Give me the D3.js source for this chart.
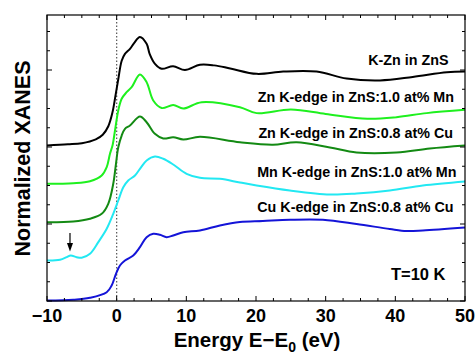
<!DOCTYPE html>
<html>
<head>
<meta charset="utf-8">
<script src="https://cdn.jsdelivr.net/npm/d3@7"></script>
<style>
  html, body { margin: 0; padding: 0; background: #fff; }
  svg { display: block; font-family: "Liberation Sans", Arial, sans-serif; }
</style>
</head>
<body>
<svg id="chart" width="475" height="354"></svg>
<script>
// ---------- data (energy in eV, normalized XANES with vertical offsets) ----------
const seriesNames = [
  "K-Zn in ZnS",
  "Zn K-edge in ZnS:1.0 at% Mn",
  "Zn K-edge in ZnS:0.8 at% Cu",
  "Mn K-edge in ZnS:1.0 at% Mn",
  "Cu K-edge in ZnS:0.8 at% Cu"
];
const seriesColors = ["#000000", "#1ef01e", "#138a13", "#22e8f2", "#1414d8"];

const kZnZnS = [
  [-10,2.02],[-7,2.035],[-5,2.05],[-3,2.10],[-2,2.16],[-1.2,2.27],[-0.6,2.45],[-0.2,2.65],
  [0.23,2.88],[0.72,3.12],[1.19,3.21],[1.91,3.275],[2.5,3.35],[3.34,3.43],[4.3,3.34],
  [4.73,3.21],[5.5,3.08],[6.46,3.016],[8.1,3.05],[9.8,3.0],[11.95,3.068],[14,3.06],
  [16.3,3.02],[20.1,2.95],[23.9,2.98],[28.7,2.98],[33,2.89],[37.8,2.865],[42.5,2.91],
  [47.4,2.97],[50,2.98]
];
const znMn = [
  [-10,1.522],[-6.23,1.53],[-3.83,1.556],[-2.15,1.63],[-1.43,1.738],[-0.96,1.912],
  [-0.57,2.03],[-0.24,2.214],[0.23,2.474],[0.72,2.626],[1.43,2.712],[2.15,2.777],
  [3.34,2.942],[4.3,2.842],[5.25,2.604],[6.46,2.506],[8.12,2.545],[9.56,2.50],
  [12.2,2.582],[17.69,2.517],[20.09,2.44],[25,2.487],[30,2.43],[36,2.366],
  [40.17,2.387],[44.5,2.44],[50,2.483]
];
const znCu = [
  [-10,1.023],[-6.23,1.032],[-3.83,1.068],[-2.15,1.132],[-1.21,1.262],[-0.49,1.522],
  [-0.1,1.782],[0.23,1.997],[0.72,2.149],[1.19,2.236],[1.91,2.279],[3.34,2.396],
  [4.3,2.322],[5.49,2.171],[6.69,2.11],[8.12,2.127],[9.56,2.097],[11.95,2.132],
  [17.69,2.062],[22.42,2.03],[25.82,2.062],[30.6,1.994],[34.43,1.929],[40.17,1.929],
  [44.95,1.98],[50,2.019]
];
const mnMn = [
  [-10,0.526],[-8.13,0.535],[-7.17,0.569],[-6.6,0.591],[-5.74,0.569],[-5.02,0.561],
  [-3.83,0.613],[-2.64,0.764],[-1.43,0.938],[-0.49,1.132],[0.23,1.305],[0.95,1.478],
  [1.66,1.565],[2.63,1.63],[3.34,1.717],[4.3,1.825],[5.49,1.877],[6.69,1.847],
  [8.12,1.773],[10.04,1.652],[11.95,1.60],[14.82,1.587],[17.69,1.539],[20.09,1.50],
  [24.86,1.435],[30.6,1.383],[34.43,1.396],[39.21,1.435],[43.95,1.50],[50,1.552]
];
const cuCu = [
  [-10,0.006],[-6.23,0.016],[-3.83,0.042],[-1.43,0.114],[-0.72,0.201],[-0.1,0.353],
  [0.47,0.461],[1.19,0.526],[2.38,0.591],[3.34,0.699],[4.3,0.829],[5.25,0.873],
  [6.21,0.86],[7.17,0.829],[8.12,0.851],[9.56,0.894],[11.95,0.916],[14.82,0.981],
  [17.69,1.026],[20.99,1.039],[24.86,1.055],[29.6,1.055],[34.43,1.0],[39.21,0.935],
  [41.61,0.909],[43.95,0.916],[50,0.955]
];
const seriesValues = [kZnZnS, znMn, znCu, mnMn, cuCu];

const xTickLabels = [-10, 0, 10, 20, 30, 40, 50];
const xMinorStep = 2.5;
const yMinorStep = 0.25;
const tempLabel = "T=10 K";
const arrowEnergy = -6.7;

// ---------- layout ----------
const svg = d3.select("#chart");
const L = 47, R = 465, T = 15, B = 301;
const x = d3.scaleLinear().domain([-10, 50]).range([L, R]);
const y = d3.scaleLinear().domain([0, (B - T) / 77]).range([B, T]);

// dotted E0 line
svg.append("line")
  .attr("x1", x(0)).attr("x2", x(0)).attr("y1", T).attr("y2", B)
  .attr("stroke", "#555").attr("stroke-width", 1.2).attr("stroke-dasharray", "1.5,2");

// curves
const line = d3.line().x(d => x(d[0])).y(d => y(d[1])).curve(d3.curveCatmullRom.alpha(0.5));
seriesValues.forEach((s, i) => {
  svg.append("path").attr("d", line(s)).attr("fill", "none")
    .attr("stroke", seriesColors[i]).attr("stroke-width", 2).attr("stroke-linejoin", "round");
});

// frame
svg.append("rect").attr("x", L).attr("y", T).attr("width", R - L).attr("height", B - T)
  .attr("fill", "none").attr("stroke", "#000").attr("stroke-width", 1.2);

// ticks
const xTicksAll = d3.range(-10, 50.001, xMinorStep);
const yTicksAll = d3.range(0, (B - T) / 77, yMinorStep);
const tickG = svg.append("g").attr("stroke", "#000").attr("stroke-width", 1);
xTicksAll.forEach(v => {
  const len = (Math.abs(v % 10) < 1e-6) ? 5 : 3;
  tickG.append("line").attr("x1", x(v)).attr("x2", x(v)).attr("y1", B).attr("y2", B - len);
  tickG.append("line").attr("x1", x(v)).attr("x2", x(v)).attr("y1", T).attr("y2", T + len);
});
yTicksAll.forEach(v => {
  const len = (Math.abs(v - Math.round(v)) < 1e-6) ? 5 : 3;
  tickG.append("line").attr("x1", L).attr("x2", L + len).attr("y1", y(v)).attr("y2", y(v));
  tickG.append("line").attr("x1", R).attr("x2", R - len).attr("y1", y(v)).attr("y2", y(v));
});

// x tick labels
svg.append("g").selectAll("text").data(xTickLabels).join("text")
  .attr("x", d => x(d)).attr("y", 321.5)
  .attr("text-anchor", "middle").attr("font-size", 18).attr("font-weight", "bold")
  .text(d => d < 0 ? "\u2212" + Math.abs(d) : d);

// axis titles
const xt = svg.append("text").attr("x", 257).attr("y", 346.5)
  .attr("text-anchor", "middle").attr("font-size", 20.5).attr("font-weight", "bold");
xt.append("tspan").text("Energy E\u2212E");
xt.append("tspan").attr("font-size", 14).attr("dy", 5).text("0");
xt.append("tspan").attr("dy", -5).text(" (eV)");

svg.append("text").attr("transform", "translate(29.5,158.5) rotate(-90)")
  .attr("text-anchor", "middle").attr("font-size", 21.5).attr("font-weight", "bold")
  .text("Normalized XANES");

// series labels
const labelX = [448.5, 454, 453, 456.5, 453.5];
const labelY = [65, 101.5, 137.5, 177, 212];
seriesNames.forEach((n, i) => {
  svg.append("text").attr("x", labelX[i]).attr("y", labelY[i])
    .attr("text-anchor", "end").attr("font-size", 14.3).attr("font-weight", "bold")
    .text(n);
});
svg.append("text").attr("x", 445.5).attr("y", 280)
  .attr("text-anchor", "end").attr("font-size", 16.5).attr("font-weight", "bold").text(tempLabel);

// arrow
const ax = x(arrowEnergy);
svg.append("line").attr("x1", ax).attr("x2", ax).attr("y1", 233).attr("y2", 246)
  .attr("stroke", "#000").attr("stroke-width", 1.2);
svg.append("path").attr("d", `M${ax - 3},${243} L${ax + 3},${243} L${ax},${251.5} Z`).attr("fill", "#000");
</script>
</body>
</html>
